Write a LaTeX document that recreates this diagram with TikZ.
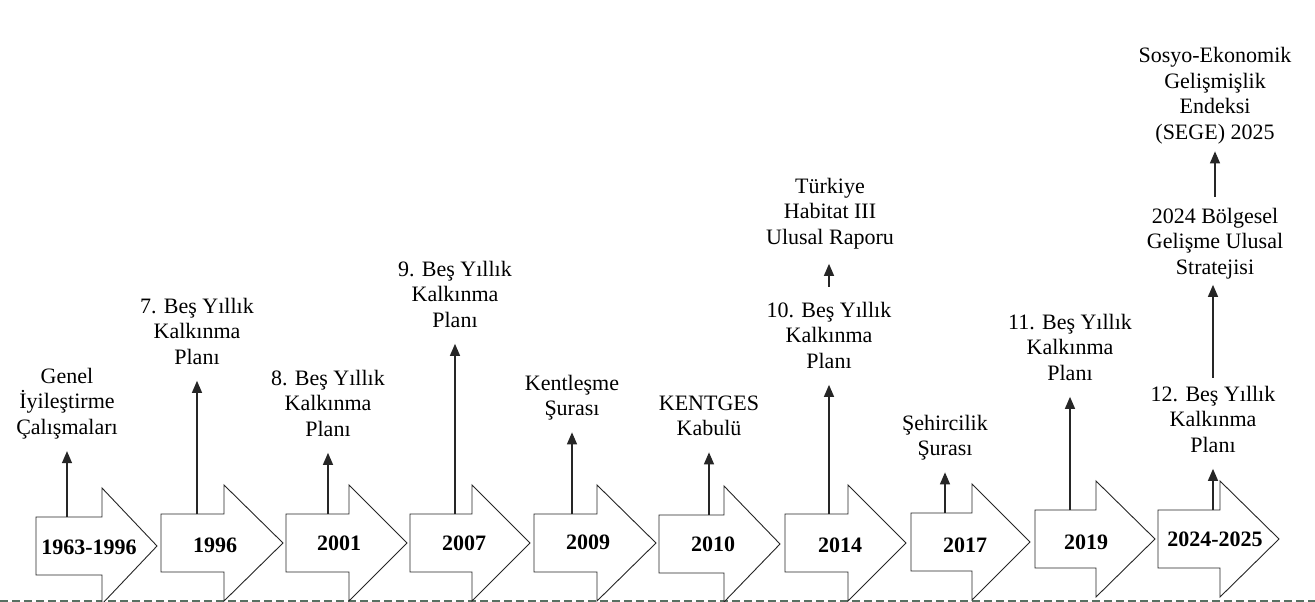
\documentclass[tikz,border=0pt]{standalone}
\usepackage{fontspec}
\setmainfont{Liberation Serif}
\usetikzlibrary{arrows.meta}
\definecolor{dashgray}{RGB}{88,112,98}
\tikzset{
  lbl/.style={anchor=base, inner sep=0pt, font=\fontsize{22}{25.5}\selectfont},
  yr/.style={anchor=base, inner sep=0pt, font=\fontsize{22}{26}\selectfont\bfseries},
  arrowshape/.style={draw=black!85, line width=0.9pt, fill=white, line join=miter},
  stem/.style={draw=black!85, line width=1.3pt, -{Triangle[width=10pt,length=12pt]}, shorten >=9pt},
  baseline dash/.style={draw=dashgray, line width=1.2pt, dash pattern=on 8pt off 4pt},
}
\newcommand\ml[1]{\begin{tabular}[t]{@{}c@{}}#1\end{tabular}}
% name, left, axis, body width, tip x, text x, text baseline, text
\newcommand\tlarrow[8]{%
  \draw[arrowshape] ({#2},{#3-29}) -- ({#2+#4},{#3-29}) -- ({#2+#4},{#3-58})
     -- ({#5},{#3}) -- ({#2+#4},{#3+58}) -- ({#2+#4},{#3+29}) -- ({#2},{#3+29}) -- cycle;
  \coordinate (#1top) at ({#2},{#3-29});
  \node[yr] (#1) at ({#6},{#7}) {#8};
}
\begin{document}
\begin{tikzpicture}[x=1pt,y=-1pt]
\useasboundingbox (0,0) rectangle (1315,602);
\fill[white] (0,0) rectangle (1315,602);

% dashed base line
\coordinate (dl) at (0,601);
\coordinate (dr) at (1315,601);
\draw[baseline dash] (dl) -- (dr);

% timeline arrows
\tlarrow{y1}{36}{546}{66}{157}{89}{554}{1963-1996}
\tlarrow{y2}{161}{543}{63}{283}{215}{552}{1996}
\tlarrow{y3}{286}{543}{63}{407}{339}{550}{2001}
\tlarrow{y4}{410}{543}{62}{530}{464}{550}{2007}
\tlarrow{y5}{534}{543}{63}{656}{588}{549}{2009}
\tlarrow{y6}{659}{544}{65}{780}{713}{551}{2010}
\tlarrow{y7}{785}{543}{63}{906}{840}{552}{2014}
\tlarrow{y8}{911}{542}{61}{1030}{965}{552}{2017}
\tlarrow{y9}{1035}{539}{61}{1155}{1086}{549}{2019}
\tlarrow{y10}{1158}{539}{62}{1279}{1215}{546}{2024-2025}

% event labels
\node[lbl] (l1) at (67,383) {\ml{Genel\\İyileştirme\\Çalışmaları}};
\node[lbl] (l2) at (197,313) {\ml{7. Beş Yıllık\\Kalkınma\\Planı}};
\node[lbl] (l3) at (328,385) {\ml{8. Beş Yıllık\\Kalkınma\\Planı}};
\node[lbl] (l4) at (455,276) {\ml{9. Beş Yıllık\\Kalkınma\\Planı}};
\node[lbl] (l5) at (572,390) {\ml{Kentleşme\\Şurası}};
\node[lbl] (l6) at (709,410) {\ml{KENTGES\\Kabulü}};
\node[lbl] (l7) at (829,317) {\ml{10. Beş Yıllık\\Kalkınma\\Planı}};
\node[lbl] (l7b) at (830,193) {\ml{Türkiye\\Habitat III\\Ulusal Raporu}};
\node[lbl] (l8) at (945,430) {\ml{Şehircilik\\Şurası}};
\node[lbl] (l9) at (1070,329) {\ml{11. Beş Yıllık\\Kalkınma\\Planı}};
\node[lbl] (l10) at (1213,401) {\ml{12. Beş Yıllık\\Kalkınma\\Planı}};
\node[lbl] (l10b) at (1215,223) {\ml{2024 Bölgesel\\Gelişme Ulusal\\Stratejisi}};
\node[lbl] (l10c) at (1215,63) {\ml{Sosyo-Ekonomik\\Gelişmişlik\\Endeksi\\(SEGE) 2025}};

% stems from arrows to labels
\foreach \i in {1,...,10}{
  \draw[stem] (l\i.south |- y\i top) -- (l\i.south);
}

% chained arrows
\draw[stem, shorten <=12pt, shorten >=12pt] (l7.north) -- (l7.north |- l7b.south);
\draw[stem, shorten <=5pt, shorten >=3pt] (l10.north) -- (l10.north |- l10b.south);
\draw[stem, shorten <=8pt, shorten >=4pt] (l10b.north) -- (l10b.north |- l10c.south);
\end{tikzpicture}
\end{document}
